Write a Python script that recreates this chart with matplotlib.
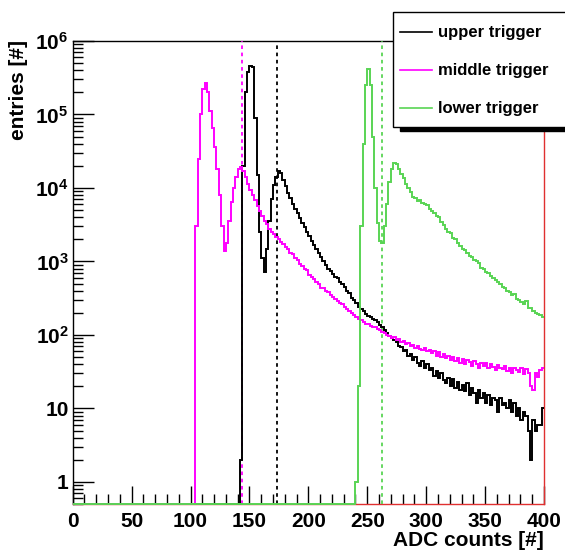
import numpy as np
import matplotlib
matplotlib.use("Agg")
import matplotlib.pyplot as plt
from matplotlib.patches import Rectangle
from matplotlib.lines import Line2D
from matplotlib.ticker import FixedLocator, MultipleLocator, LogLocator, NullFormatter

plt.rcParams['font.family'] = ['Liberation Sans', 'DejaVu Sans']
plt.rcParams['font.weight'] = 'bold'
plt.rcParams['mathtext.fontset'] = 'custom'
plt.rcParams['mathtext.rm'] = 'Liberation Sans:bold'
plt.rcParams['mathtext.bf'] = 'Liberation Sans:bold'
plt.rcParams['mathtext.default'] = 'rm'

# histogramas, bins de 2 cuentas ADC (0..400)
bin_width = 2
x_max = 400

upper_start = 142
upper_counts = [
    2, 2.0e4, 2.0e5, 3.8e5, 4.6e5, 4.4e5, 9.0e4, 1.5e4, 2500, 1100,
    720, 1500, 3500, 7000, 1.1e4, 1.4e4, 1.7e4, 1.6e4, 1.3e4, 1.05e4,
    8500, 7200, 6000, 5200, 4500, 3900, 3300, 2900, 2500, 2200,
    1900, 1700, 1500, 1300, 1150, 1000, 900, 800, 740, 680,
    620, 600, 530, 500, 450, 400, 370, 320, 300, 270,
    240, 225, 210, 190, 180, 175, 165, 160, 150, 135,
    128, 118, 105, 98, 92, 85, 80, 70, 68, 60,
    62, 52, 55, 46, 50, 42, 38, 44, 36, 40,
    33, 35, 28, 32, 26, 30, 24, 22, 26, 20,
    25, 19, 23, 18, 21, 17, 22, 15, 19, 16,
    12, 18, 14, 16, 12, 15, 11, 14, 13, 9,
    14, 11, 12, 10, 13, 9, 12, 8, 10, 7,
    9, 8, 5, 2, 7, 5, 6, 6, 10]

middle_start = 104
middle_counts = [
    3000, 2.5e4, 1.0e5, 2.2e5, 2.7e5, 2.0e5, 1.1e5, 6.5e4, 3.6e4, 1.8e4,
    8000, 3000, 1400, 1800, 3500, 6500, 1.0e4, 1.4e4, 1.8e4, 1.9e4,
    1.7e4, 1.4e4, 1.15e4, 9500, 8000, 6800, 5600, 4800, 4200, 3600,
    3200, 2800, 2550, 2350, 2150, 2000, 1850, 1750, 1550, 1500,
    1300, 1250, 1100, 1050, 930, 880, 780, 760, 660, 620,
    580, 520, 500, 440, 430, 390, 380, 350, 330, 310,
    290, 270, 260, 240, 225, 210, 200, 185, 178, 165,
    160, 150, 142, 140, 133, 128, 130, 122, 118, 110,
    105, 100, 98, 92, 95, 85, 88, 80, 82, 75,
    78, 70, 72, 66, 70, 64, 62, 66, 60, 63,
    57, 60, 52, 58, 50, 55, 48, 52, 46, 50,
    44, 48, 42, 47, 40, 45, 43, 38, 44, 40,
    36, 42, 38, 41, 35, 40, 37, 33, 39, 36,
    34, 38, 32, 36, 30, 35, 33, 31, 36, 29,
    34, 30, 20, 18, 30, 27, 33, 36]

lower_start = 240
lower_counts = [
    1, 20, 3000, 4.0e4, 2.5e5, 4.2e5, 2.5e5, 5.0e4, 1.0e4, 3300,
    1900, 1800, 3000, 6000, 1.2e4, 1.8e4, 2.2e4, 2.1e4, 1.8e4, 1.55e4,
    1.35e4, 1.15e4, 1.0e4, 8800, 7600, 7200, 6600, 6900, 6300, 6000,
    5900, 5200, 4800, 4600, 4100, 4000, 3400, 3100, 2800, 2500,
    2450, 2100, 2000, 1800, 1600, 1500, 1450, 1300, 1200, 1150,
    1050, 1000, 950, 820, 800, 720, 700, 640, 600, 560,
    520, 500, 450, 430, 400, 380, 350, 360, 310, 300,
    280, 260, 290, 235, 230, 210, 200, 190, 185, 175]

# cortes (lineas punteadas)
cut_middle = 143.5
cut_upper = 173.7
cut_lower = 262.7

labels = ["upper trigger", "middle trigger", "lower trigger"]
colores = ["black", "#ff00ff", "#59d454"]

y_min, y_max = 0.5, 1e6

edges = np.arange(0, x_max + bin_width, bin_width)


def histograma(start, counts):
    h = np.zeros(len(edges) - 1)
    i0 = start // bin_width
    h[i0:i0 + len(counts)] = counts
    h[h <= 0] = y_min  # ROOT dibuja los bins vacios en el borde inferior
    return h


figura = plt.figure(figsize=(5.65, 5.52), dpi=100)
ax = figura.add_axes([72.7 / 565, 1 - 504 / 552, (544 - 72.7) / 565, (504 - 41) / 552])

ax.set_xlim(0, x_max)
ax.set_yscale('log')
ax.set_ylim(y_min, y_max)

for spine in ['right', 'bottom']:
    ax.spines[spine].set_color('#e03030')
for spine in ax.spines.values():
    spine.set_linewidth(1.0)

ax.axvline(cut_middle, color=colores[1], ls=(0, (2, 2)), lw=1.3, zorder=3)
ax.axvline(cut_upper, color=colores[0], ls=(0, (2, 2)), lw=1.3, zorder=3)
ax.axvline(cut_lower, color=colores[2], ls=(0, (2, 2)), lw=1.3, zorder=3)

ax.stairs(histograma(upper_start, upper_counts), edges, baseline=None,
          color=colores[0], lw=1.4, clip_on=False, zorder=3)
ax.stairs(histograma(middle_start, middle_counts), edges, baseline=None,
          color=colores[1], lw=1.4, clip_on=False, zorder=3)
ax.stairs(histograma(lower_start, lower_counts), edges, baseline=None,
          color=colores[2], lw=1.4, clip_on=False, zorder=3)

# ejes estilo ROOT
ax.xaxis.set_major_locator(MultipleLocator(50))
ax.xaxis.set_minor_locator(MultipleLocator(10))
ax.yaxis.set_major_locator(FixedLocator([1, 10, 1e2, 1e3, 1e4, 1e5, 1e6]))
ax.yaxis.set_minor_locator(LogLocator(base=10, subs=np.arange(2, 10), numticks=20))
ax.yaxis.set_minor_formatter(NullFormatter())
ax.set_yticklabels(["1", "10", "$10^{2}$", "$10^{3}$", "$10^{4}$", "$10^{5}$", "$10^{6}$"])
ax.tick_params(axis='both', which='both', direction='in', top=False, right=False,
               width=1.0, labelsize=15)
ax.tick_params(axis='x', which='major', length=13, pad=6)
ax.tick_params(axis='x', which='minor', length=7)
ax.tick_params(axis='y', which='major', length=15, pad=3)
ax.tick_params(axis='y', which='minor', length=7)
for t in ax.get_xticklabels() + ax.get_yticklabels():
    t.set_fontweight('bold')

figura.text(544 / 565, 1 - 541 / 552, "ADC counts [#]", ha='right', va='center',
            fontsize=15, fontweight='bold')
figura.text(19 / 565, 1 - 40 / 552, "entries [#]", ha='center', va='top',
            rotation=90, fontsize=15, fontweight='bold')

# leyenda con sombra
W, H = 565.0, 552.0
figura.add_artist(Rectangle((400 / W, 1 - 131 / H), 170 / W, 5 / H,
                            transform=figura.transFigure, color='black', zorder=5))
figura.add_artist(Rectangle((393 / W, 1 - 127 / H), 180 / W, 115 / H,
                            transform=figura.transFigure, facecolor='white',
                            edgecolor='black', lw=1.0, zorder=6))
for k in range(3):
    yy = 1 - (32 + 38 * k) / H
    figura.add_artist(Line2D([400 / W, 432 / W], [yy, yy], transform=figura.transFigure,
                             color=colores[k], lw=1.2, zorder=7))
    figura.text(438 / W, yy, labels[k], ha='left', va='center', fontsize=12,
                fontweight='bold', zorder=7)

plt.savefig("out.png", dpi=100)
